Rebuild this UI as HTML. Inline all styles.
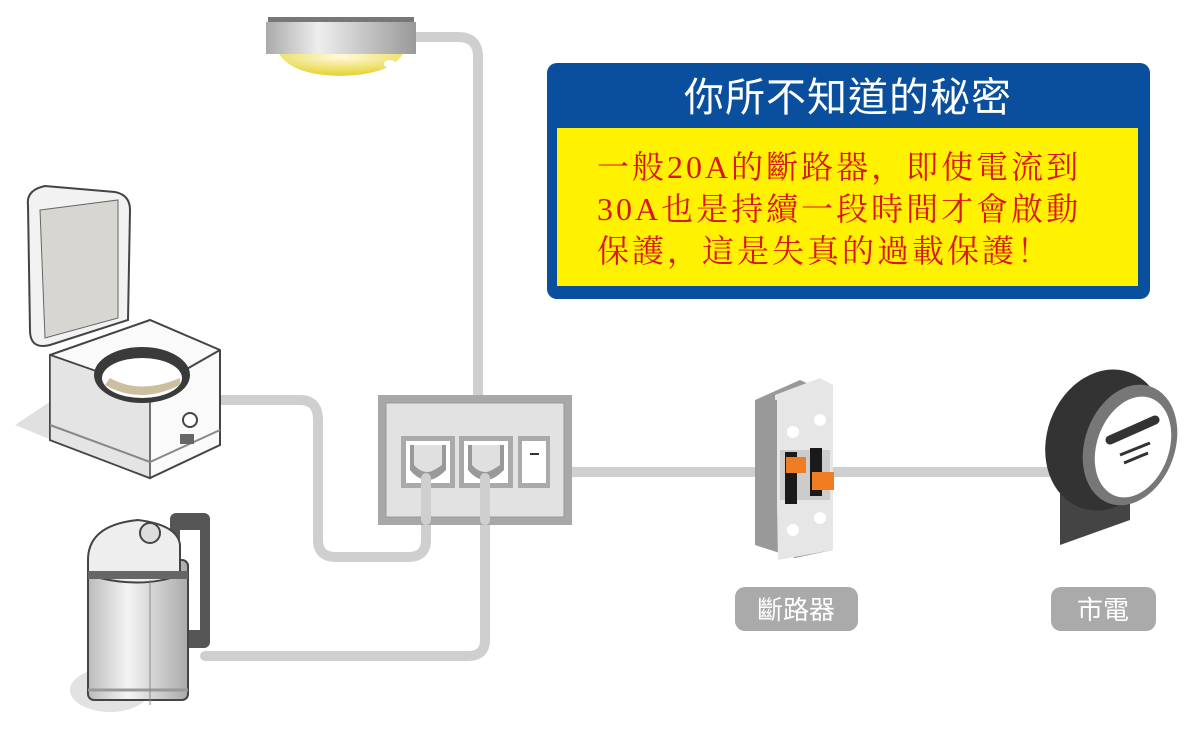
<!DOCTYPE html>
<html><head><meta charset="utf-8"><style>
html,body{margin:0;padding:0;background:#fff;}
svg{display:block;}
</style></head><body>
<svg width="1200" height="739" viewBox="0 0 1200 739" xmlns="http://www.w3.org/2000/svg">
<defs>
<linearGradient id="lampg" x1="0" x2="1"><stop offset="0" stop-color="#aaa"/><stop offset="0.35" stop-color="#eee"/><stop offset="1" stop-color="#999"/></linearGradient>
<radialGradient id="bulb" cx="0.5" cy="0.2" r="0.7"><stop offset="0" stop-color="#fffbe0"/><stop offset="1" stop-color="#e8d640"/></radialGradient>
<linearGradient id="kg" x1="0" x2="1"><stop offset="0" stop-color="#bbb"/><stop offset="0.4" stop-color="#f4f4f4"/><stop offset="1" stop-color="#aaa"/></linearGradient>
</defs>
<!-- wires -->
<g fill="none" stroke="#cfcfcf" stroke-width="10" stroke-linecap="round">
<path d="M415 37 H458 Q478 37 478 57 V398"/>
<path d="M220 400 H300 Q318 400 318 420 V540 Q318 557 336 557 H408 Q426 557 426 540 V470"/>
<path d="M205 656 H468 Q485 656 485 640 V470"/>
<path d="M570 472 H1060"/>
</g>
<!-- lamp -->
<rect x="268" y="17" width="146" height="5" fill="#777"/>
<path d="M278 52 Q290 75 340 76 Q392 75 404 52 Z" fill="url(#bulb)"/>
<ellipse cx="390" cy="64" rx="6" ry="4" fill="#fff"/>
<rect x="266" y="22" width="150" height="32" fill="url(#lampg)"/>
<!-- info box -->
<rect x="547" y="63" width="603" height="236" rx="10" fill="#0a4f9d"/>
<rect x="557" y="128" width="581" height="158" fill="#fff200"/>
<text x="848" y="111" text-anchor="middle" fill="#fff" font-family="'Liberation Sans','Noto Sans CJK TC',sans-serif" font-size="40" letter-spacing="1">你所不知道的秘密</text>
<g fill="#d9161c" font-family="'Liberation Serif','Noto Serif CJK SC',serif" font-size="32" letter-spacing="3">
<text x="597" y="178">一般20A的斷路器，即使電流到</text>
<text x="597" y="220">30A也是持續一段時間才會啟動</text>
<text x="597" y="262">保護，這是失真的過載保護！</text>
</g>
<!-- socket -->
<rect x="378" y="395" width="194" height="130" fill="#a8a8a8"/>
<rect x="386" y="403" width="178" height="114" fill="#e2e2e2" stroke="#999"/>
<rect x="401" y="436" width="54" height="52" fill="#aaa"/>
<rect x="406" y="441" width="44" height="42" fill="#fff"/>
<path d="M410 445 H446 V470 Q436 480 428 480 Q418 480 410 470Z" fill="#999"/>
<path d="M414 445 H442 V465 Q432 472 428 472 Q420 472 414 465Z" fill="#e0e0e0"/>
<rect x="459" y="436" width="54" height="52" fill="#aaa"/>
<rect x="464" y="441" width="44" height="42" fill="#fff"/>
<path d="M468 445 H504 V470 Q494 480 486 480 Q476 480 468 470Z" fill="#999"/>
<path d="M472 445 H500 V465 Q490 472 486 472 Q478 472 472 465Z" fill="#e0e0e0"/>
<rect x="518" y="436" width="32" height="52" fill="#aaa"/>
<rect x="522" y="441" width="24" height="42" fill="#fff"/>
<rect x="530" y="453" width="9" height="2" fill="#333"/>
<g stroke="#cfcfcf" stroke-width="10" stroke-linecap="round"><path d="M426 478 V520 M485 478 V520"/></g>
<!-- breaker -->
<polygon points="755,400 800,380 833,395 833,550 795,558 755,545" fill="#999"/>
<polygon points="775,395 820,378 833,385 833,550 778,560" fill="#e6e6e6"/>
<rect x="755" y="400" width="22" height="145" fill="#999"/>
<rect x="780" y="450" width="50" height="50" fill="#ccc"/>
<rect x="785" y="452" width="12" height="52" fill="#1a1a1a"/>
<rect x="810" y="448" width="12" height="48" fill="#1a1a1a"/>
<rect x="786" y="457" width="20" height="16" fill="#f07d22"/>
<rect x="812" y="472" width="22" height="18" fill="#f07d22"/>
<circle cx="793" cy="432" r="6" fill="#fff"/><circle cx="820" cy="420" r="6" fill="#fff"/>
<circle cx="793" cy="530" r="6" fill="#fff"/><circle cx="820" cy="518" r="6" fill="#fff"/>
<!-- meter -->
<polygon points="1060,470 1130,455 1130,520 1060,545" fill="#444"/>
<ellipse cx="1105" cy="440" rx="58" ry="72" fill="#333" transform="rotate(20 1105 440)"/>
<ellipse cx="1130" cy="445" rx="45" ry="62" fill="#777" transform="rotate(20 1130 445)"/>
<ellipse cx="1133" cy="447" rx="36" ry="52" fill="#fff" transform="rotate(20 1133 447)"/>
<path d="M1110 440 L1155 420" stroke="#333" stroke-width="9" stroke-linecap="round"/>
<path d="M1120 455 L1150 443 M1124 463 L1148 453" stroke="#333" stroke-width="3"/>
<!-- labels -->
<rect x="735" y="587" width="123" height="44" rx="10" fill="#aaa"/>
<text x="796" y="619" text-anchor="middle" fill="#fff" font-family="'Liberation Sans','Noto Sans CJK TC',sans-serif" font-size="26">斷路器</text>
<rect x="1051" y="587" width="105" height="44" rx="10" fill="#aaa"/>
<text x="1103" y="619" text-anchor="middle" fill="#fff" font-family="'Liberation Sans','Noto Sans CJK TC',sans-serif" font-size="26">市電</text>
<!-- rice cooker -->
<polygon points="15,425 60,395 200,440 150,480" fill="#e0e0e0"/>
<path d="M50 355 L150 320 L220 350 L220 445 L150 478 L50 440 Z" fill="#fafafa" stroke="#444" stroke-width="2"/>
<path d="M50 355 L150 390 L220 350" fill="none" stroke="#444" stroke-width="2"/>
<path d="M50 355 L150 390 L150 478 L50 440Z" fill="#e4e4e4" stroke="#444" stroke-width="1.5"/>
<path d="M50 425 L150 462 L220 430" fill="none" stroke="#888" stroke-width="2"/>
<ellipse cx="142" cy="375" rx="48" ry="28" fill="#3a3a3a"/>
<ellipse cx="142" cy="378" rx="40" ry="20" fill="#fff"/>
<path d="M105 385 Q140 405 180 385 L180 378 Q140 395 110 378Z" fill="#cbbfa0"/>
<circle cx="190" cy="420" r="7" fill="#fff" stroke="#444" stroke-width="2"/>
<rect x="180" y="434" width="14" height="10" fill="#666"/>
<path d="M28 205 Q26 190 45 186 L115 192 Q130 195 130 210 L128 320 L50 345 Q30 350 30 330Z" fill="#f2f2f2" stroke="#444" stroke-width="2"/>
<path d="M40 210 L118 200 L118 318 L45 338Z" fill="#d8d6d2" stroke="#666"/>
<!-- kettle -->
<ellipse cx="110" cy="690" rx="40" ry="22" fill="#e2e2e2"/>
<rect x="170" y="513" width="40" height="135" rx="6" fill="#555"/>
<rect x="180" y="530" width="20" height="100" fill="#fff"/>
<rect x="88" y="560" width="100" height="140" rx="6" fill="url(#kg)" stroke="#444" stroke-width="2"/>
<path d="M88 560 Q88 525 138 520 Q178 525 180 545 L180 575 Q140 590 88 575Z" fill="#eee" stroke="#444" stroke-width="2"/>
<circle cx="150" cy="533" r="10" fill="#ddd" stroke="#444" stroke-width="2"/>
<path d="M88 575 H188" stroke="#666" stroke-width="8"/>
<path d="M88 690 H188" stroke="#999" stroke-width="3"/>
<path d="M150 580 V705" stroke="#888"/>
</svg>
</body></html>
